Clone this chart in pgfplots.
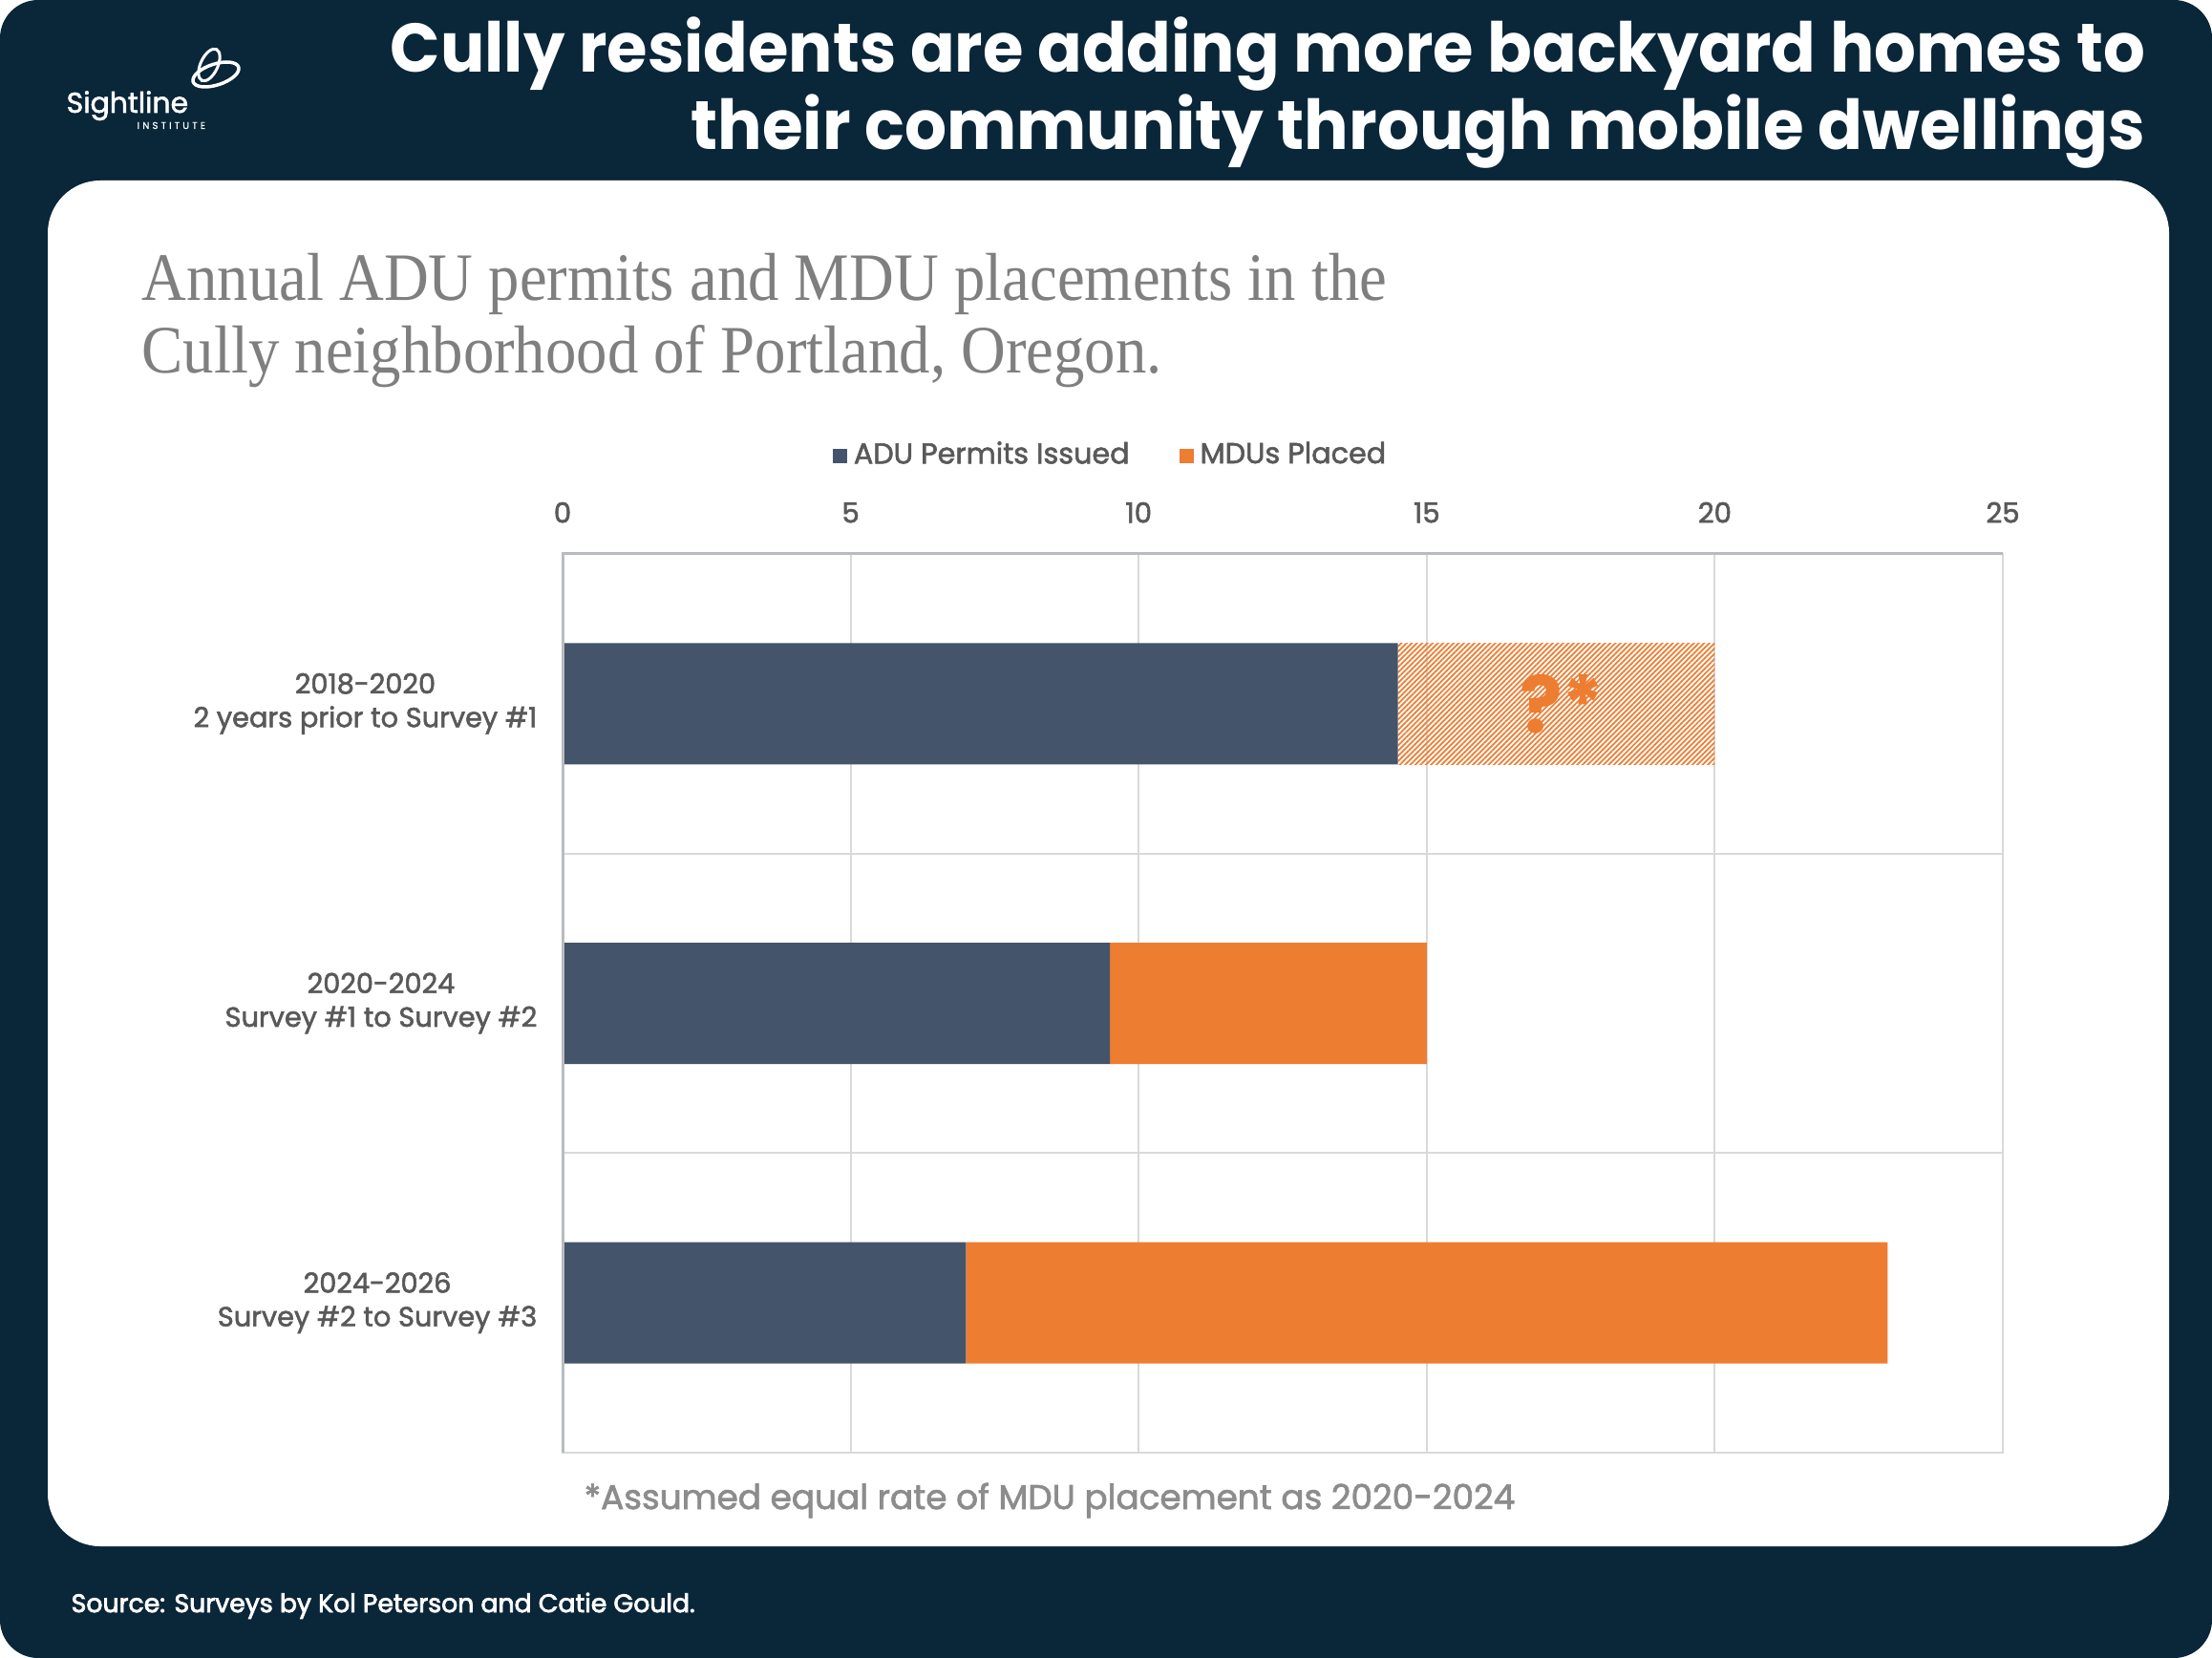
\documentclass[border=0pt]{standalone}
\usepackage{fontspec}
\setmainfont{Poppins}
\newfontfamily\pmed[FakeBold=1.9]{Poppins}
\newfontfamily\psemi[FakeBold=2.8]{Poppins}
\newfontfamily\serif{Liberation Serif}
\newfontfamily\pspaced[LetterSpace=30,FakeBold=0.5]{Poppins}
\usepackage{pgfplots}
\pgfplotsset{compat=1.18}
\usetikzlibrary{patterns.meta}
\definecolor{navy}{HTML}{0A2639}
\definecolor{adu}{HTML}{44546A}
\definecolor{mdu}{HTML}{ED7D31}
\definecolor{labgray}{HTML}{595959}
\definecolor{subgray}{HTML}{7F7F7F}
\definecolor{footgray}{HTML}{8C8C8C}
\definecolor{gridgray}{HTML}{D9D9D9}
\definecolor{framegray}{HTML}{B8BCC0}
\begin{document}
\begin{tikzpicture}
\useasboundingbox (0,0) rectangle (231.6mm,-173.6mm);
\begin{scope}[x=0.1mm,y=-0.1mm]
\fill[white] (0,0) rectangle (2316,1736);
\fill[navy, rounded corners=4mm] (0,0) rectangle (2316,1736);
\fill[white, rounded corners=5.5mm] (50,189) rectangle (2271,1619);
% title
\node[anchor=base east, xscale=0.955, text=white, font=\bfseries\fontsize{20.5}{24}\selectfont, inner sep=0] at (2247,76) {Cully residents are adding more backyard homes to};
\node[anchor=base east, xscale=0.96, text=white, font=\bfseries\fontsize{20.5}{24}\selectfont, inner sep=0] at (2247,157) {their community through mobile dwellings};
% logo
\draw[white, line width=0.3mm, rotate around={-25:(219,68)}] (219,68) ellipse (9 and 18);
\draw[white, line width=0.35mm, rotate around={18:(226,78)}] (226,78) ellipse (25 and 11);
\node[anchor=base west, text=white, font=\pmed\fontsize{8.5}{10}\selectfont, inner sep=0] at (69,118) {Sightline};
\node[anchor=base west, text=white, font=\pspaced\fontsize{2.9}{3}\selectfont, inner sep=0] at (143,135) {INSTITUTE};
% subtitle
\node[anchor=base west, xscale=0.912, text=subgray, font=\serif\fontsize{20.2}{24}\selectfont, inner sep=0] at (148,315) {Annual ADU permits and MDU placements in the};
\node[anchor=base west, xscale=0.912, text=subgray, font=\serif\fontsize{20.2}{24}\selectfont, inner sep=0] at (148,391) {Cully neighborhood of Portland, Oregon.};
% footnote
\node[anchor=base west, text=footgray, font=\pmed\fontsize{10.2}{12}\selectfont, inner sep=0] at (611,1580) {*Assumed equal rate of MDU placement as 2020-2024};
% source
\node[anchor=base west, text=white, font=\psemi\fontsize{7.6}{9}\selectfont, inner sep=0] at (74,1688) {Source: Surveys by Kol Peterson and Catie Gould.};
\end{scope}

\begin{axis}[
  at={(134.3mm,-105.05mm)}, anchor=center,
  width=150.8mm, height=94.1mm, scale only axis,
  xbar stacked, bar width=12.7mm,
  xmin=0, xmax=25, ymin=-0.5, ymax=2.5, y dir=reverse,
  xtick={0,5,10,15,20,25},
  xticklabel pos=upper,
  ytick={0,1,2},
  yticklabels={{2018-2020\\2 years prior to Survey \#1},{2020-2024\\Survey \#1 to Survey \#2},{2024-2026\\Survey \#2 to Survey \#3}},
  minor ytick={0.5,1.5},
  xmajorgrids, yminorgrids,
  major grid style={draw=gridgray, line width=0.2mm},
  minor grid style={draw=gridgray, line width=0.2mm},
  major tick length=0pt, minor tick length=0pt,
  axis line style={draw=gridgray, line width=0.2mm},
  xticklabel style={font=\pmed\fontsize{8.3}{9}\selectfont, text=labgray, inner sep=0pt, yshift=3.2mm, /pgf/number format/assume math mode=true},
  yticklabel style={font=\pmed\fontsize{8.2}{10}\selectfont, text=labgray, align=center, inner sep=0pt, xshift=-2.6mm},
  legend entries={ADU Permits Issued, MDUs Placed},
  legend columns=2,
  legend style={at={(axis description cs:0.382,1.11)}, anchor=center, draw=none, fill=none,
    font=\pmed\fontsize{8.6}{9}\selectfont, text=labgray,
    /tikz/every even column/.append style={column sep=4.5mm}},
  legend image code/.code={\fill[#1] (0mm,-0.8mm) rectangle (1.5mm,0.7mm);},
]
\addplot[fill=adu, draw=none] coordinates {(14.5,0) (9.5,1) (7,2)};
\addplot[fill=mdu, draw=none] coordinates {(0,0) (5.5,1) (16,2)};
\addplot[pattern={Lines[angle=45,distance=1.1pt,line width=0.5pt]}, pattern color=mdu, draw=none] coordinates {(5.5,0) (0,1) (0,2)};
\node[font=\bfseries\fontsize{23.5}{26}\selectfont, text=mdu, inner sep=0] at (axis cs:17.35,0) {?*};
\end{axis}
\draw[framegray, line width=0.3mm] (58.9mm,-152.1mm) -- (58.9mm,-58.0mm) -- (209.7mm,-58.0mm);
\end{tikzpicture}
\end{document}
